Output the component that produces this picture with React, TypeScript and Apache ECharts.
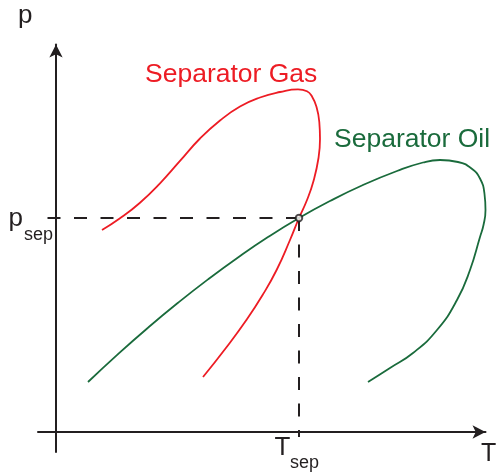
import React, { useEffect, useRef } from "react";
import * as echarts from "echarts";

// Phase envelopes in arbitrary temperature / pressure units.
const gasT = [46, 64, 84, 104, 124, 144, 164, 184, 204, 224, 242, 251, 256, 260.5, 263.3, 264, 262.5, 257.5, 251, 243, 234, 220.6, 206.6, 190.4, 169.9, 147];
const gasP = [202, 213.7, 229.3, 248.7, 271.1, 293.5, 311.5, 325.5, 334.5, 340, 342.7, 340.7, 335.5, 325, 310, 293, 274, 251, 232, 214, 192, 162, 137, 112, 84, 55];

const oilT = [32, 62, 92, 122, 152, 182, 212, 243, 274, 307, 341, 367, 384, 402, 415.5, 424, 428.5, 429.5, 427.5, 424, 414, 401, 381, 357, 334, 312];
const oilP = [50, 77.9, 104.3, 129.2, 152.6, 174.5, 194.9, 214, 231, 247, 261, 269.5, 272, 270, 263.5, 253.5, 238, 222, 207, 195, 162, 132, 102, 79, 64, 50];

// Separator conditions
const T_SEP = 243;
const P_SEP = 214;

// Extent of the dashed guide lines
const guideLeftT = -11;
const guideBottomP = -5;

const RED = "#ed1c24";
const GREEN = "#1a6b3c";
const INK = "#231f20";
const FONT = "'Liberation Sans', Arial, Helvetica, sans-serif";

const zip = (xs: number[], ys: number[]) => xs.map((x, i) => [x, ys[i]]);

export default function App() {
  const ref = useRef<HTMLDivElement>(null);

  useEffect(() => {
    if (!ref.current) return;
    const chart = echarts.init(ref.current, null, { renderer: "svg" });

    const axisLine = {
      show: true,
      onZero: true,
      symbol: ["none", "arrow"],
      symbolSize: [10, 13],
      lineStyle: { color: INK, width: 2 },
    };

    const text = (
      t: string,
      x: number,
      y: number,
      size: number,
      fill: string
    ) => ({
      type: "text",
      x,
      y,
      style: {
        text: t,
        fill,
        font: `${size}px ${FONT}`,
        verticalAlign: "middle",
        align: "left",
      },
    });

    chart.setOption({
      animation: false,
      grid: { left: 38, top: 44.5, width: 447.5, height: 407.5 },
      xAxis: {
        type: "value",
        min: -18,
        max: 429.5,
        axisLine,
        axisTick: { show: false },
        axisLabel: { show: false },
        splitLine: { show: false },
      },
      yAxis: {
        type: "value",
        min: -20,
        max: 387.5,
        axisLine,
        axisTick: { show: false },
        axisLabel: { show: false },
        splitLine: { show: false },
      },
      series: [
        {
          type: "line",
          data: [
            [T_SEP, P_SEP],
            [guideLeftT, P_SEP],
          ],
          symbol: "none",
          lineStyle: { color: INK, width: 2, type: [13, 13.5] },
          silent: true,
        },
        {
          type: "line",
          data: [
            [T_SEP, P_SEP],
            [T_SEP, guideBottomP],
          ],
          symbol: "none",
          lineStyle: { color: INK, width: 2, type: [13, 13.5] },
          silent: true,
        },
        {
          name: "Separator Gas",
          type: "line",
          data: zip(gasT, gasP),
          smooth: 0.5,
          symbol: "none",
          lineStyle: { color: RED, width: 1.8 },
        },
        {
          name: "Separator Oil",
          type: "line",
          data: zip(oilT, oilP),
          smooth: 0.5,
          symbol: "none",
          lineStyle: { color: GREEN, width: 1.8 },
        },
        {
          type: "scatter",
          data: [[T_SEP, P_SEP]],
          symbol: "circle",
          symbolSize: 6.5,
          itemStyle: { color: "#ffffff", borderColor: INK, borderWidth: 2 },
          z: 5,
        },
      ],
      graphic: [
        text("p", 18, 14, 26, INK),
        text("T", 481, 452, 25, INK),
        text("p", 8.5, 217, 26, INK),
        text("sep", 24, 233.5, 18, INK),
        text("T", 274.5, 446, 26, INK),
        text("sep", 290, 461.5, 18, INK),
        text("Separator Gas", 145, 72.5, 26.5, RED),
        text("Separator Oil", 334, 138, 26.5, GREEN),
      ],
    });

    return () => chart.dispose();
  }, []);

  return (
    <div
      ref={ref}
      style={{ position: "fixed", left: 0, top: 0, width: 496, height: 472 }}
    />
  );
}
